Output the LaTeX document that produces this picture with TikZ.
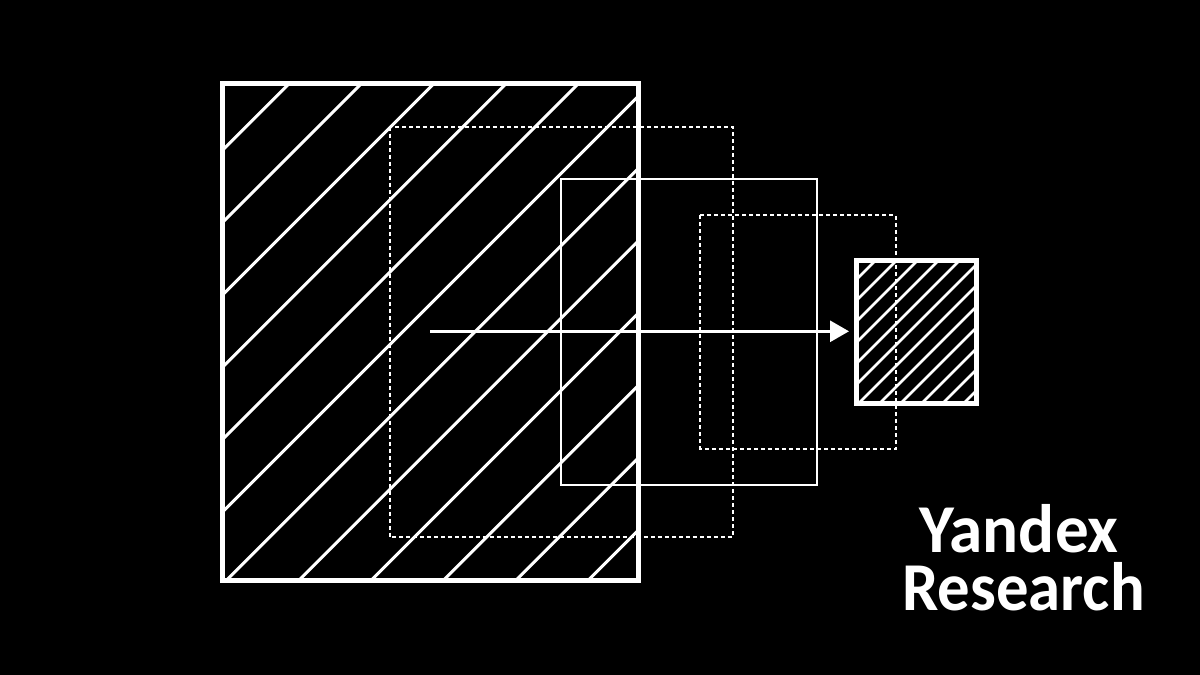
\documentclass[tikz,border=0pt]{standalone}
\usepackage{fontspec}
\setmainfont{Carlito}
\usetikzlibrary{arrows.meta, positioning}

\tikzset{
  frame/.style={draw=white, line width=0.1cm},
  thinframe/.style={draw=white, line width=0.04cm},
  dotframe/.style={draw=white, line width=0.04cm, dash pattern=on 0.08cm off 0.06cm},
  hatchbig/.style={draw=white, line width=0.06cm},
  hatchsmall/.style={draw=white, line width=0.055cm},
  brand/.style={text=white, inner sep=0pt, text depth=0pt, font=\fontsize{39}{39}\selectfont\bfseries}
}

\begin{document}
\begin{tikzpicture}[x=0.02cm, y=-0.02cm, >=Stealth]
  % Background
  \fill[black] (0,0) rectangle (1200,675);

  % Large hatched square
  \begin{scope}
    \clip (222.5,83.2) rectangle (638.2,580.8);
    \foreach \k in {0,...,11}
      \draw[hatchbig] ({372.7+72.35*\k-70},70) -- ({372.7+72.35*\k-600},600);
  \end{scope}

  % Intermediate layers
  \draw[dotframe] (389.7,126.7) rectangle (732.5,537.3);
  \draw[thinframe] (561.3,178.7) rectangle (817.3,485.3);
  \draw[dotframe] (700.3,215.3) rectangle (895.7,448.7);

  % Small hatched square
  \begin{scope}
    \clip (856.8,260.8) rectangle (976.8,403.8);
    \foreach \k in {0,...,11}
      \draw[hatchsmall] ({1136+21*\k-250},250) -- ({1136+21*\k-420},420);
  \end{scope}
  \draw[frame] (222.5,83.2) rectangle (638.2,580.8);
  \draw[frame] (856.8,260.8) rectangle (976.8,403.8);

  % Arrow
  \coordinate (arrowstart) at (430,331.3);
  \coordinate (arrowend) at (849,331.3);
  \draw[-{Triangle[length=0.38cm, width=0.42cm]}, white, line width=0.06cm] (arrowstart) -- (arrowend);

  % Logo
  \node[brand, anchor=base west] (yandex) at (919,552.3) {\scalebox{0.98}[1]{Yandex}};
  \node[brand, anchor=base west] (research) at (902,610) {\scalebox{0.945}[1]{Research}};
\end{tikzpicture}
\end{document}
